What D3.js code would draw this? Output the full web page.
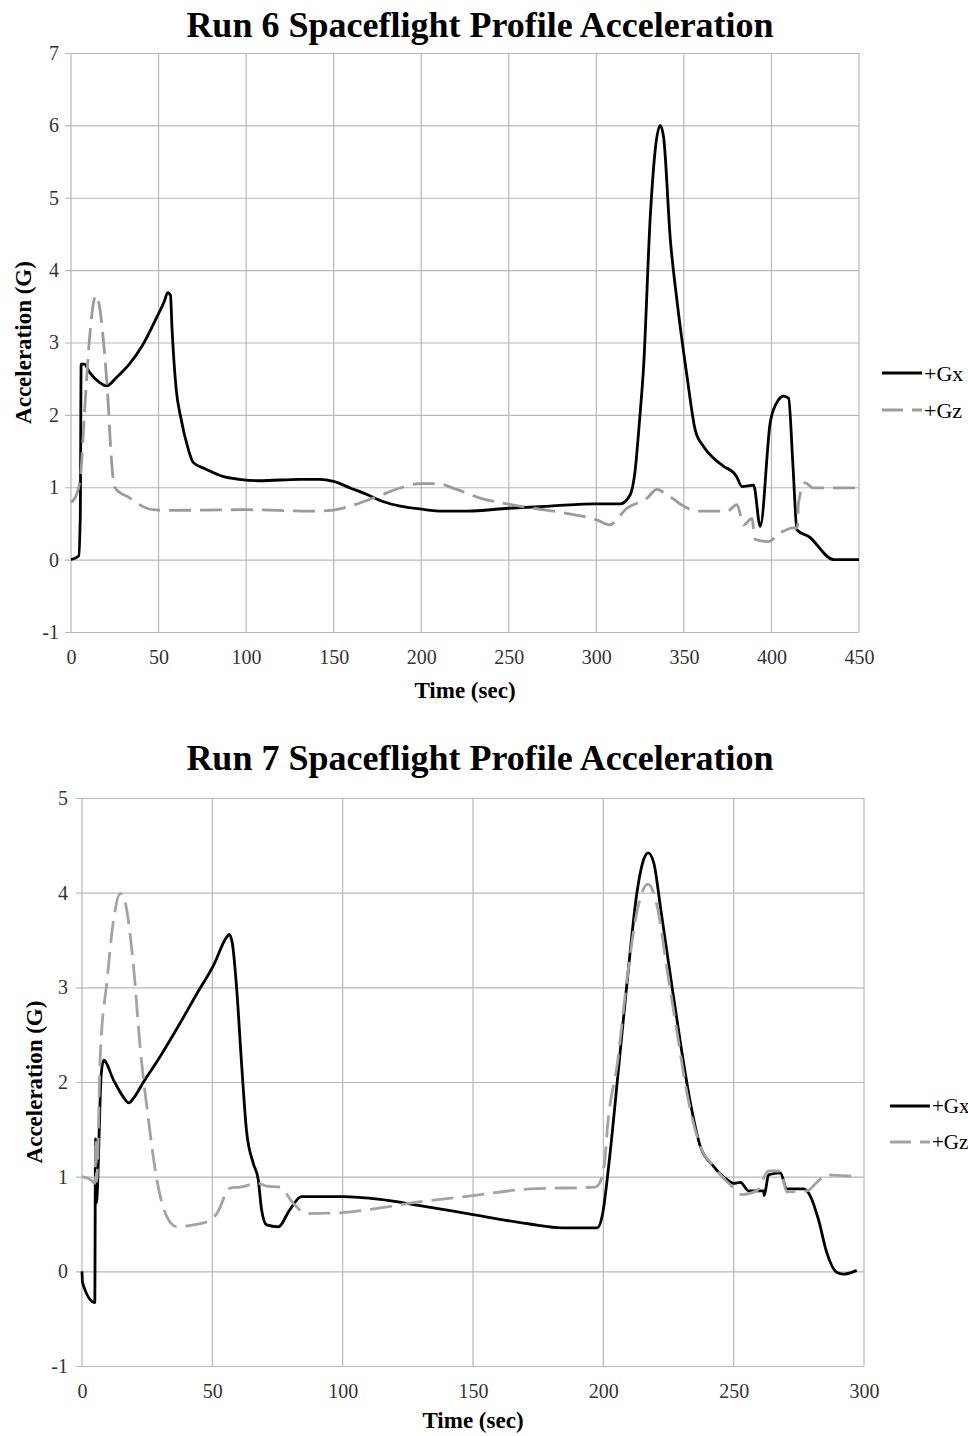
<!DOCTYPE html>
<html>
<head>
<meta charset="utf-8">
<script src="https://cdn.jsdelivr.net/npm/d3@7"></script>
<style>
  body { margin: 0; background: #fff; }
  svg { display: block; }
  text { font-family: "Liberation Serif", "Times New Roman", serif; }
</style>
</head>
<body>
<svg id="chart" width="968" height="1436"></svg>
<script>
// ---- Run 6 data (time in sec, acceleration in G) ----
var run6GxTime = [0, 4.4, 5.3, 5.8, 7.6, 10.5, 16.2, 20.4, 25.7, 33.3, 41, 48.6, 53.3, 55.2, 56.8, 57.7,
    60, 62.9, 66.7, 69.9, 77.1, 86.7, 96.2, 107.6, 130.5, 142, 150, 159.5, 169, 178.5, 188, 199.4,
    212.7, 226, 250, 273.6, 300, 313.7, 319.4, 322, 324.7, 327, 330.8, 336.5, 338.4, 342.3, 346,
    351.8, 356.5, 361.3, 367, 372.7, 378.4, 380, 383.2, 389.8, 393.6, 399.4, 404.1, 407, 409.8,
    412.3, 414.6, 421.3, 435.5, 450];
var run6Gx = [0, 0.05, 0.6, 2.7, 2.7, 2.59, 2.45, 2.4, 2.51, 2.7, 2.97, 3.33, 3.57, 3.69, 3.65, 3.19,
    2.37, 1.94, 1.55, 1.34, 1.25, 1.15, 1.11, 1.09, 1.11, 1.11, 1.08, 0.99, 0.9, 0.8, 0.74, 0.7,
    0.67, 0.67, 0.71, 0.74, 0.77, 0.77, 0.9, 1.2, 1.93, 2.67, 4.74, 6.0, 5.84, 4.41, 3.59,
    2.53, 1.79, 1.56, 1.4, 1.29, 1.2, 1.15, 1.01, 1.03, 0.46, 1.91, 2.21, 2.26, 2.23,
    1.29, 0.41, 0.32, 0, 0];
var run6GzTime = [0, 3.2, 5.5, 7.6, 10.5, 13, 14.3, 16.2, 18.5, 21, 22.9, 24.8, 27.6, 32.4, 39, 46.7,
    54.3, 100, 138, 148, 159.5, 174.7, 188, 199.4, 208.9, 220.3, 233.7, 248.9, 264, 283, 300.2,
    307.5, 317.5, 329, 334.6, 340.3, 349.8, 357.5, 374.6, 380.3, 384.1, 388.8, 390.7, 398.3, 405,
    412.6, 414.8, 415.4, 419.2, 424, 450];
var run6Gz = [0.79, 0.9, 1.17, 1.99, 3.03, 3.57, 3.65, 3.51, 3.03, 2.26, 1.45, 1.01, 0.93, 0.87, 0.76, 0.69,
    0.68, 0.69, 0.67, 0.68, 0.74, 0.87, 0.99, 1.05, 1.05, 0.97, 0.85, 0.77, 0.71, 0.64, 0.55,
    0.48, 0.71, 0.85, 0.97, 0.9, 0.74, 0.67, 0.67, 0.76, 0.48, 0.57, 0.28, 0.25, 0.37,
    0.44, 0.44, 0.78, 1.06, 0.99, 0.99];

// ---- Run 7 data ----
var run7GxTime = [0, 0.2, 4.9, 5.2, 5.5, 7.4, 8.3, 12.1, 15.9, 17.9, 19.8, 23.6, 30, 37.6, 44, 50.4,
    55.5, 56.5, 57.7, 59.3, 61.2, 63.1, 65.7, 67.6, 68.9, 70.8, 75.3, 79.7, 84.2, 100, 114.4, 128.4,
    150, 171.7, 184.4, 197.7, 199.6, 202.2, 205.4, 209.2, 213, 215.6, 217.2, 219.4, 221.9, 225.8,
    229.6, 233.4, 237.2, 242.3, 247.4, 250, 252.6, 255.7, 261.5, 261.7, 263.4, 267.9, 270.4, 276.8,
    279.3, 282.5, 285.7, 289.5, 292.1, 297.2];
var run7Gx = [0, -0.12, -0.33, 1.4, 0.72, 2.09, 2.23, 2.02, 1.84, 1.78, 1.83, 2.0, 2.27, 2.62, 2.93, 3.23,
    3.53, 3.56, 3.46, 3.0, 2.2, 1.49, 1.14, 0.97, 0.65, 0.49, 0.47, 0.65, 0.79, 0.79, 0.76, 0.7,
    0.6, 0.5, 0.46, 0.46, 0.59, 1.15, 2.02, 3.08, 4.02, 4.36, 4.42, 4.31, 3.85, 3.11,
    2.41, 1.78, 1.32, 1.11, 0.97, 0.93, 0.94, 0.85, 0.85, 0.8, 1.02, 1.04, 0.87, 0.87,
    0.8, 0.55, 0.2, -0.01, -0.03, 0.01];
var run7GzTime = [0, 3.2, 5.0, 5.3, 5.6, 7.0, 9.6, 12.1, 14.7, 15.9, 17.2, 19.8, 22.3, 25.5, 28.7, 32.5,
    36.4, 42.7, 48.5, 51.7, 56.8, 60.6, 67.6, 70.8, 75.9, 81, 86.1, 100, 114.4, 128.4, 150, 171.7,
    196.8, 198.7, 200.6, 201.5, 205.4, 209.2, 213, 217.1, 220.7, 224.5, 228.3, 232.1, 237.2, 242.3,
    250, 253.2, 258.9, 263.4, 267.9, 270.4, 278.1, 281.9, 285.7, 292.1, 297.2];
var run7Gz = [1.0, 0.97, 0.93, 1.4, 0.95, 2.27, 3.07, 3.71, 3.99, 3.97, 3.81, 3.21, 2.37, 1.6, 0.97, 0.58,
    0.47, 0.49, 0.53, 0.61, 0.88, 0.89, 0.93, 0.9, 0.89, 0.72, 0.61, 0.62, 0.67, 0.73, 0.8, 0.87,
    0.89, 0.94, 1.18, 1.5, 2.2, 3.11, 3.81, 4.09, 3.85, 3.18, 2.52, 1.88, 1.32, 1.11,
    0.88, 0.81, 0.85, 1.06, 1.06, 0.84, 0.85, 0.94, 1.02, 1.01, 1.0];

var seriesNames = ['+Gx', '+Gz'];
var run6XTicks = [0, 50, 100, 150, 200, 250, 300, 350, 400, 450];
var run6YTicks = [-1, 0, 1, 2, 3, 4, 5, 6, 7];
var run7XTicks = [0, 50, 100, 150, 200, 250, 300];
var run7YTicks = [-1, 0, 1, 2, 3, 4, 5];

var svg = d3.select('#chart');

function toPoints(t, v) {
    return t.map((d, i) => ({ t: d, v: v[i] }));
}

function drawChart(cfg) {
    var g = svg.append('g');

    var x = d3.scaleLinear()
        .domain([cfg.xTicks[0], cfg.xTicks[cfg.xTicks.length - 1]])
        .range([cfg.left, cfg.right]);
    var y = d3.scaleLinear()
        .domain([cfg.yTicks[0], cfg.yTicks[cfg.yTicks.length - 1]])
        .range([cfg.bottom, cfg.top]);

    // title
    g.append('text')
        .attr('x', 480)
        .attr('y', cfg.titleY)
        .attr('text-anchor', 'middle')
        .style('font-size', '36px')
        .style('font-weight', 'bold')
        .text(cfg.title);

    // grid: vertical
    g.selectAll('.vgrid')
        .data(cfg.xTicks)
        .enter().append('line')
        .attr('x1', d => x(d)).attr('x2', d => x(d))
        .attr('y1', cfg.top).attr('y2', cfg.bottom)
        .attr('stroke', '#b8b8b8')
        .attr('stroke-width', 1.2);

    // y axis, gridlines drawn as ticks
    var yAxis = d3.axisLeft(y)
        .tickValues(cfg.yTicks)
        .tickSizeInner(-(cfg.right - cfg.left))
        .tickSizeOuter(0)
        .tickPadding(cfg.yPad)
        .tickFormat(d => String(d));
    var ya = g.append('g')
        .attr('transform', 'translate(' + cfg.left + ',0)')
        .attr('font-family', null)
        .call(yAxis);
    ya.select('.domain').remove();
    ya.selectAll('.tick line')
        .attr('x1', -6)
        .attr('stroke', '#b8b8b8')
        .attr('stroke-width', 1.2);
    ya.selectAll('.tick text')
        .style('font-family', '"Liberation Serif", serif')
        .style('font-size', '20px')
        .attr('fill', '#333');

    // x axis labels
    var xAxis = d3.axisBottom(x)
        .tickValues(cfg.xTicks)
        .tickSize(0)
        .tickPadding(18)
        .tickFormat(d => String(d));
    var xa = g.append('g')
        .attr('transform', 'translate(0,' + cfg.bottom + ')')
        .call(xAxis);
    xa.select('.domain').remove();
    xa.selectAll('.tick text')
        .style('font-family', '"Liberation Serif", serif')
        .style('font-size', '20px')
        .attr('fill', '#333');

    // axis titles
    g.append('text')
        .attr('x', (cfg.left + cfg.right) / 2)
        .attr('y', cfg.bottom + cfg.xTitleGap)
        .attr('text-anchor', 'middle')
        .style('font-size', '23px')
        .style('font-weight', 'bold')
        .text('Time (sec)');
    g.append('text')
        .attr('transform', 'translate(' + cfg.yTitleX + ',' + ((cfg.top + cfg.bottom) / 2) + ') rotate(-90)')
        .attr('text-anchor', 'middle')
        .style('font-size', '23px')
        .style('font-weight', 'bold')
        .text('Acceleration (G)');

    var line = d3.line()
        .x(d => x(d.t))
        .y(d => y(d.v))
        .curve(d3.curveMonotoneX);

    cfg.series.forEach(s => {
        g.append('path')
            .datum(toPoints(s.t, s.v))
            .attr('d', line)
            .attr('fill', 'none')
            .attr('stroke', s.color)
            .attr('stroke-width', 2.8)
            .attr('stroke-linejoin', 'round')
            .attr('stroke-dasharray', s.dash);
    });

    // legend
    var lg = g.selectAll('.legend')
        .data(cfg.series)
        .enter().append('g')
        .attr('transform', (d, i) => 'translate(' + cfg.legendX + ',' + (cfg.legendY + i * cfg.legendStep) + ')');
    lg.append('line')
        .attr('x1', 0).attr('x2', 40)
        .attr('stroke', d => d.color)
        .attr('stroke-width', 2.8)
        .attr('stroke-dasharray', d => d.dash ? '21,9' : null);
    lg.append('text')
        .attr('x', 42)
        .attr('dy', '0.35em')
        .style('font-size', cfg.legendFont)
        .text(d => d.name);
}

drawChart({
    title: 'Run 6 Spaceflight Profile Acceleration',
    titleY: 37,
    left: 71, right: 859, top: 53, bottom: 632,
    xTicks: run6XTicks, yTicks: run6YTicks,
    yPad: 12, yTitleX: 31, xTitleGap: 66,
    legendX: 882, legendY: 373, legendStep: 37, legendFont: '22px',
    series: [
        { name: seriesNames[0], t: run6GxTime, v: run6Gx, color: '#000', dash: null },
        { name: seriesNames[1], t: run6GzTime, v: run6Gz, color: '#9b9b9b', dash: '22,9' }
    ]
});

drawChart({
    title: 'Run 7 Spaceflight Profile Acceleration',
    titleY: 770,
    left: 82, right: 864, top: 798, bottom: 1366,
    xTicks: run7XTicks, yTicks: run7YTicks,
    yPad: 14, yTitleX: 42, xTitleGap: 62,
    legendX: 890, legendY: 1106, legendStep: 36, legendFont: '21px',
    series: [
        { name: seriesNames[0], t: run7GxTime, v: run7Gx, color: '#000', dash: null },
        { name: seriesNames[1], t: run7GzTime, v: run7Gz, color: '#a3a3a3', dash: '22,9' }
    ]
});
</script>
</body>
</html>
